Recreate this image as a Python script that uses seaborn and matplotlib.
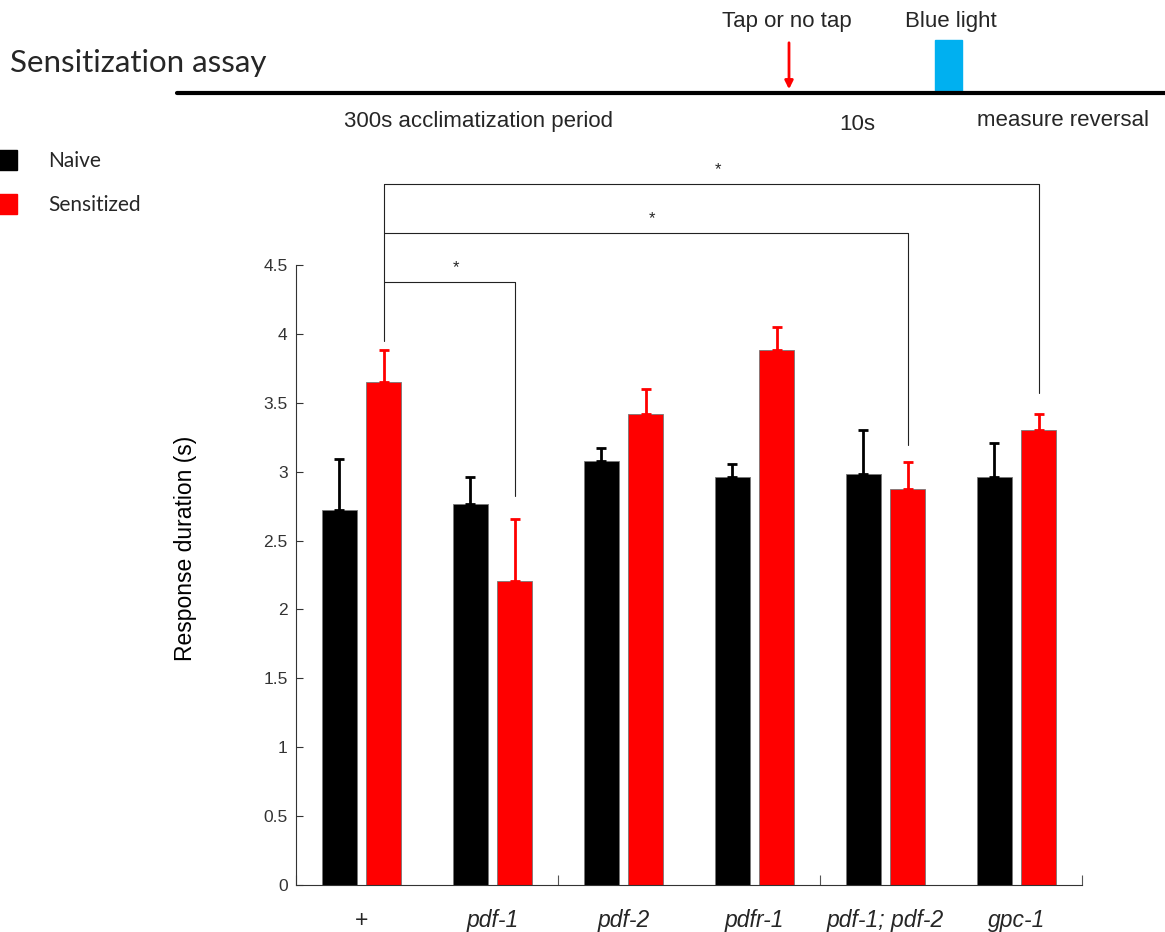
import numpy as np
import pandas as pd
import matplotlib
matplotlib.use('Agg')
import matplotlib.pyplot as plt
import seaborn as sns
from matplotlib.patches import Rectangle, FancyArrowPatch
from matplotlib.lines import Line2D

# ---------------- data ----------------
genotypes = ['+', 'pdf-1', 'pdf-2', 'pdfr-1', 'pdf-1; pdf-2', 'gpc-1']
conditions = ['Naive', 'Sensitized']
naive_mean = [2.72, 2.765, 3.08, 2.96, 2.98, 2.96]
naive_err = [0.37, 0.195, 0.09, 0.095, 0.32, 0.25]
sens_mean = [3.65, 2.21, 3.42, 3.88, 2.875, 3.30]
sens_err = [0.23, 0.45, 0.18, 0.17, 0.195, 0.12]
yticks = [0, 0.5, 1, 1.5, 2, 2.5, 3, 3.5, 4, 4.5]
ytick_labels = ['0', '0.5', '1', '1.5', '2', '2.5', '3', '3.5', '4', '4.5']
colors = ['#000000', '#FF0000']
# significance brackets: from '+' sensitized to these genotypes' sensitized bars
sig_targets = ['pdf-1', 'pdf-1; pdf-2', 'gpc-1']
sig_levels = [4.38, 4.73, 5.09]
sig_ends = [2.82, 3.19, 3.57]
sig_start_bottom = 3.95
sig_labels = ['*', '*', '*']

W, H = 1165, 932
fig = plt.figure(figsize=(W / 100, H / 100), dpi=100)
sns.set_style('white')
plt.rcParams['font.family'] = ['Liberation Sans', 'DejaVu Sans']

ax = fig.add_axes([296 / W, 1 - 885 / H, (1082 - 296) / W, (885 - 265) / H])

df = pd.DataFrame({
    'genotype': genotypes * 2,
    'condition': [conditions[0]] * len(genotypes) + [conditions[1]] * len(genotypes),
    'value': naive_mean + sens_mean,
})
sns.barplot(data=df, x='genotype', y='value', hue='condition', order=genotypes,
            hue_order=conditions, palette=colors, saturation=1, width=0.672, gap=0.196,
            errorbar=None, edgecolor='#777777', linewidth=0.6, ax=ax, legend=False)

errs = [naive_err, sens_err]
sens_centers = {}
bar_containers = list(ax.containers)
for ci, cont in enumerate(bar_containers):
    xs = [p.get_x() + p.get_width() / 2 for p in cont.patches]
    hs = [p.get_height() for p in cont.patches]
    ax.errorbar(xs, hs, yerr=[[0] * len(hs), errs[ci]], fmt='none',
                ecolor=colors[ci], elinewidth=2.0, capsize=3.5, capthick=2.0, zorder=1)
    if ci == 1:
        for g, x in zip(genotypes, xs):
            sens_centers[g] = x

ax.set_xlim(-0.5, len(genotypes) - 0.5)
ax.set_ylim(0, 4.5)
ax.set_yticks(yticks)
ax.set_yticklabels(ytick_labels)
ax.set_xlabel('')
ax.set_ylabel('Response duration (s)', fontsize=16.5, color='#000000')
ax.yaxis.set_label_coords(-0.126, 0.5435)
sns.despine(ax=ax)
for s in ['left', 'bottom']:
    ax.spines[s].set_color('#333333')
    ax.spines[s].set_linewidth(0.8)

ax.tick_params(axis='y', direction='in', length=5, width=0.8, color='#333333',
               labelsize=12.5, labelcolor='#333333', pad=6, left=True)
ax.tick_params(axis='x', which='major', length=0, pad=17)
ax.set_xticks(range(len(genotypes)))
ax.set_xticklabels(genotypes, fontsize=16.5, style='italic')
for lab in ax.get_xticklabels():
    if lab.get_text() == '+':
        lab.set_style('normal')
ax.set_xticks([i - 0.5 for i in range(0, len(genotypes) + 1, 2)], minor=True)
ax.tick_params(axis='x', which='minor', direction='in', length=7, width=0.8,
               color='#555555', bottom=True)

# significance brackets
x0 = sens_centers['+']
top = max(sig_levels)
ax.plot([x0, x0], [sig_start_bottom, top], color='#222222', lw=0.8, clip_on=False)
for tgt, lvl, end, lab in zip(sig_targets, sig_levels, sig_ends, sig_labels):
    x1 = sens_centers[tgt]
    ax.plot([x0, x1, x1], [lvl, lvl, end], color='#222222', lw=0.8, clip_on=False)
    ax.text((x0 + x1) / 2 + 0.05, lvl + 0.05, lab, ha='center', va='bottom',
            fontsize=12, clip_on=False)

# ---------------- header schematic ----------------
def fx(px):
    return px / W

def fy(py):
    return 1 - py / H

fig.text(fx(10), fy(63), 'Sensitization assay', fontsize=22.5, family=['Lato', 'DejaVu Sans'],
         va='center', ha='left')
fig.add_artist(Line2D([fx(177), fx(1165)], [fy(93), fy(93)], color='black', lw=3,
                      transform=fig.transFigure))
fig.add_artist(FancyArrowPatch((fx(789), fy(40)), (fx(789), fy(92)), arrowstyle='-|>',
                               mutation_scale=12, color='#FF0000', lw=2,
                               transform=fig.transFigure))
fig.add_artist(Rectangle((fx(935), fy(92)), fx(27), 52 / H, color='#00B0F0',
                         transform=fig.transFigure))
fig.text(fx(787), fy(21), 'Tap or no tap', fontsize=16, ha='center', va='center')
fig.text(fx(951), fy(21), 'Blue light', fontsize=16, ha='center', va='center')
fig.text(fx(478), fy(121), '300s acclimatization period', fontsize=16, ha='center', va='center')
fig.text(fx(857), fy(124), '10s', fontsize=16, ha='center', va='center')
fig.text(fx(1063), fy(121), 'measure reversal', fontsize=16, ha='center', va='center')

# legend
for i, (cond, col) in enumerate(zip(conditions, colors)):
    yc = 160 + i * 44
    fig.add_artist(Rectangle((fx(-3), fy(yc + 10)), fx(20), 20 / H, color=col,
                             transform=fig.transFigure))
    fig.text(fx(48), fy(yc + 1), cond, fontsize=15, family=['Lato', 'DejaVu Sans'],
             ha='left', va='center')

fig.savefig('out.png', dpi=100)
